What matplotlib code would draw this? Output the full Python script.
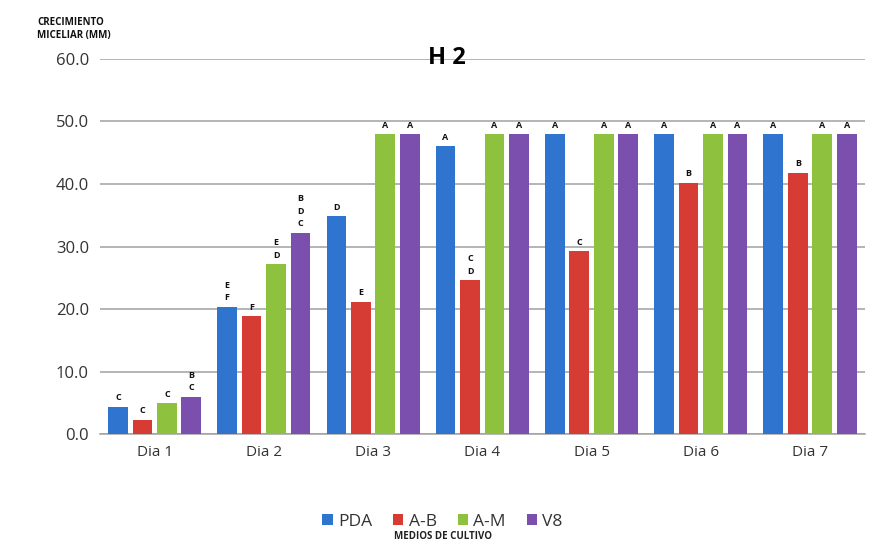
import matplotlib
matplotlib.use("Agg")
import matplotlib.pyplot as plt
import numpy as np

days = ["Dia 1", "Dia 2", "Dia 3", "Dia 4", "Dia 5", "Dia 6", "Dia 7"]
media = ["PDA", "A-B", "A-M", "V8"]
pda = [4.4, 20.4, 34.9, 46.1, 48.0, 48.0, 48.0]
ab = [2.3, 18.9, 21.2, 24.6, 29.3, 40.2, 41.8]
am = [5.0, 27.2, 48.0, 48.0, 48.0, 48.0, 48.0]
v8 = [6.0, 32.2, 48.0, 48.0, 48.0, 48.0, 48.0]
letters_pda = ["C", "E\nF", "D", "A", "A", "A", "A"]
letters_ab = ["C", "F", "E", "C\nD", "C", "B", "B"]
letters_am = ["C", "E\nD", "A", "A", "A", "A", "A"]
letters_v8 = ["B\nC", "B\nD\nC", "A", "A", "A", "A", "A"]

series = [pda, ab, am, v8]
letters = [letters_pda, letters_ab, letters_am, letters_v8]
colors = ["#2f74cf", "#d63b34", "#8ec23e", "#7a4fae"]

plt.rcParams["font.family"] = ["Open Sans", "DejaVu Sans"]

fig = plt.figure(figsize=(8.85, 5.56), dpi=100)
ax = fig.add_axes([0.113, 0.219, 0.864, 0.675])

x = np.arange(len(days))
pitch = 0.224
width = 0.18
for i, (vals, labs, c, name) in enumerate(zip(series, letters, colors, media)):
    pos = x + (i - 1.5) * pitch
    ax.bar(pos, vals, width=width, color=c, label=name, zorder=3)
    for px, v, t in zip(pos, vals, labs):
        ax.text(px, v + 0.7, t, ha="center", va="bottom", fontsize=6.5,
                fontweight="bold", linespacing=1.5, color="#111111", zorder=4)

ax.set_xlim(-0.5, 6.5)
ax.set_ylim(0, 60)
ax.set_yticks(np.arange(0, 61, 10))
ax.set_yticklabels([f"{v:.1f}" for v in np.arange(0, 61, 10)], fontsize=12, color="#333333")
ax.set_xticks(x)
ax.set_xticklabels(days, fontsize=11, color="#333333")
ax.tick_params(axis="both", length=0, pad=8)
ax.yaxis.grid(True, color="#a0a0a0", linewidth=1.1, zorder=0)
for s in ["top", "right", "left"]:
    ax.spines[s].set_visible(False)
ax.spines["bottom"].set_color("#a0a0a0")
ax.spines["bottom"].set_linewidth(1.1)

fig.text(0.505, 0.896, "H 2", ha="center", va="center", fontsize=17, fontweight="bold")
fig.text(0.042, 0.948, "CRECIMIENTO\nMICELIAR (MM)", ha="left", va="center",
         fontsize=7, fontweight="bold", linespacing=1.3, color="#111111")

leg = fig.legend(loc="center", bbox_to_anchor=(0.5, 0.062), ncol=4, frameon=False,
                 fontsize=12.5, handlelength=0.6, handleheight=0.6, handletextpad=0.3,
                 columnspacing=1.2)
for t in leg.get_texts():
    t.set_color("#333333")
fig.text(0.5, 0.035, "MEDIOS DE CULTIVO", ha="center", va="center", fontsize=7,
         fontweight="bold", color="#222222")

fig.savefig("out.png", dpi=100)
